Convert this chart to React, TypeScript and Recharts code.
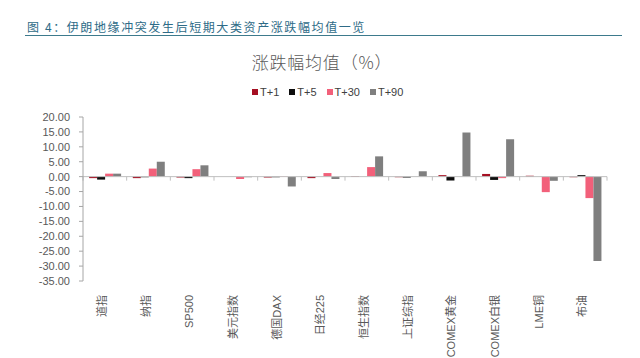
import { BarChart, Bar, XAxis, YAxis, ReferenceLine } from 'recharts'

const categories = ['道指', '纳指', 'SP500', '美元指数', '德国DAX', '日经225', '恒生指数', '上证综指', 'COMEX黄金', 'COMEX白银', 'LME铜', '布油']
const t1 = [-0.5, -0.5, -0.3, 0.0, -0.3, -0.5, 0.2, -0.2, 0.5, 0.9, 0.3, -0.2]
const t5 = [-1.0, -0.2, -0.5, 0.0, -0.2, 0.0, 0.0, -0.3, -1.3, -1.1, 0.0, 0.5]
const t30 = [1.0, 2.7, 2.5, -0.8, 0.1, 1.2, 3.2, 0.0, 0.0, -0.5, -5.2, -7.2]
const t90 = [1.0, 5.0, 3.8, -0.2, -3.3, -0.8, 6.8, 1.8, 14.8, 12.5, -1.4, -28.3]
const yTicks = [20, 15, 10, 5, 0, -5, -10, -15, -20, -25, -30, -35]

const series = [
  { key: 't1', name: 'T+1', color: '#A50F22' },
  { key: 't5', name: 'T+5', color: '#0D0D0D' },
  { key: 't30', name: 'T+30', color: '#F2607A' },
  { key: 't90', name: 'T+90', color: '#7F7F7F' },
]

const data = categories.map((name, i) => ({ name, t1: t1[i], t5: t5[i], t30: t30[i], t90: t90[i] }))

const FONT = 'Arial, "Liberation Sans", "Noto Sans CJK SC", sans-serif'

// x labels: rotated, hanging from the bottom of the plot
function CategoryTick(props: any) {
  const { x, y, payload } = props
  return (
    <text
      x={0}
      y={0}
      transform={`translate(${x - 3},${y + 6}) rotate(-90)`}
      textAnchor="end"
      dominantBaseline="central"
      fontSize={11}
      fill="#595959"
      fontFamily={FONT}
    >
      {payload.value}
    </text>
  )
}

// zero line with category divider ticks
function ZeroLine(props: any) {
  const { x1, y1, x2, y2 } = props
  const n = categories.length
  const step = (x2 - x1) / n
  return (
    <g>
      <line x1={x1} y1={y1} x2={x2} y2={y2} stroke="#BFBFBF" strokeWidth={1} />
      {Array.from({ length: n + 1 }, (_, i) => (
        <line key={i} x1={x1 + i * step} y1={y1} x2={x1 + i * step} y2={y1 + 4} stroke="#BFBFBF" strokeWidth={1} />
      ))}
    </g>
  )
}

export default function App() {
  return (
    <div style={{ position: 'absolute', left: 0, top: 0, width: 640, height: 358, background: '#fff', fontFamily: FONT }}>
      {/* header */}
      <div style={{ position: 'absolute', left: 27, top: 18, fontSize: 12, letterSpacing: 1.6, color: '#2E6B87', fontFamily: '"Noto Sans CJK SC", sans-serif', whiteSpace: 'nowrap' }}>
        图 4：伊朗地缘冲突发生后短期大类资产涨跌幅均值一览
      </div>
      <div style={{ position: 'absolute', left: 25, top: 35, width: 597, height: 1, background: '#3D7A8C' }} />
      <div style={{ position: 'absolute', left: 0, width: 644, top: 49, textAlign: 'center', fontSize: 17, letterSpacing: 0.8, color: '#595959', fontFamily: '"Noto Sans CJK SC", sans-serif', fontWeight: 300 }}>
        涨跌幅均值（%）
      </div>
      {/* legend */}
      <div style={{ position: 'absolute', left: 252, top: 86, display: 'flex', gap: 10, fontSize: 11, color: '#404040', whiteSpace: 'nowrap' }}>
        {series.map(s => (
          <span key={s.key} style={{ display: 'flex', alignItems: 'center', gap: 2 }}>
            <span style={{ width: 6, height: 6, background: s.color, display: 'inline-block' }} />
            {s.name}
          </span>
        ))}
      </div>
      <div style={{ position: 'absolute', left: 0, top: 0 }}>
        <BarChart width={640} height={358} data={data} margin={{ top: 117, right: 33, left: 23, bottom: 0 }} barCategoryGap="14%" barGap={0}>
          <XAxis
            dataKey="name"
            axisLine={false}
            tickLine={false}
            height={77}
            interval={0}
            tick={<CategoryTick />}
          />
          <YAxis
            type="number"
            domain={[-35, 20]}
            ticks={yTicks}
            interval={0}
            width={60}
            tickFormatter={(v: number) => v.toFixed(2)}
            tick={{ fontSize: 11, fill: '#595959', fontFamily: FONT }}
            axisLine={{ stroke: '#A6A6A6' }}
            tickLine={{ stroke: '#A6A6A6' }}
            tickSize={4}
            tickMargin={9}
          />
          {series.map(s => (
            <Bar key={s.key} dataKey={s.key} name={s.name} fill={s.color} isAnimationActive={false} />
          ))}
          <ReferenceLine y={0} shape={<ZeroLine />} />
        </BarChart>
      </div>
    </div>
  )
}
